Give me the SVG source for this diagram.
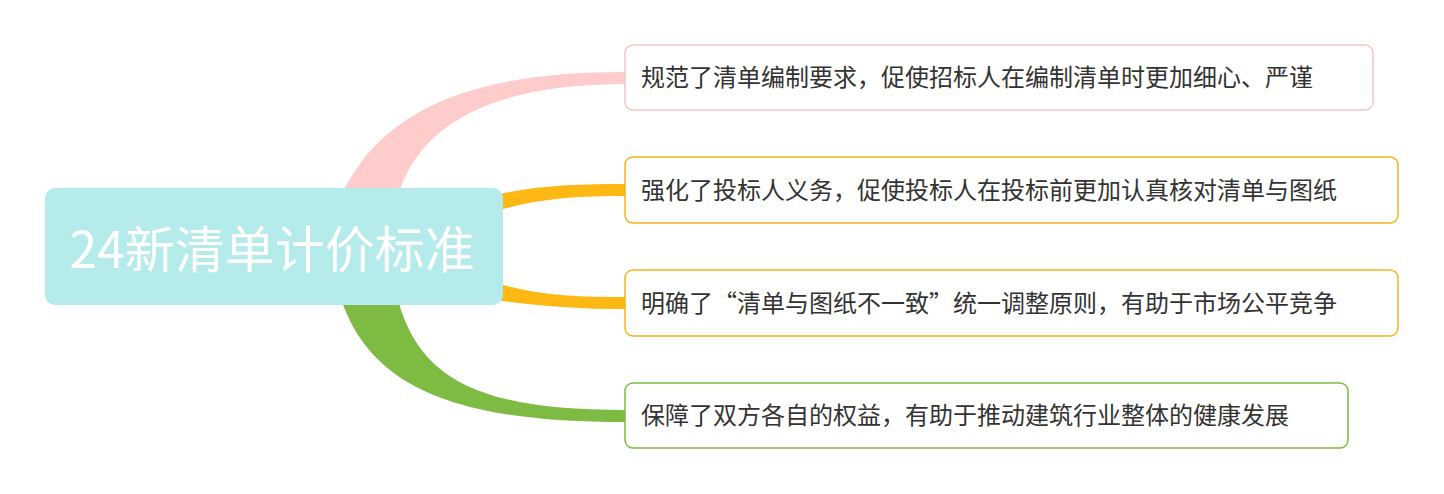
<svg xmlns="http://www.w3.org/2000/svg" width="1444" height="494" viewBox="0 0 1444 494">
<style>
.leaf{fill:#fff;stroke-width:1.5}
.lt{font-family:"Noto Sans CJK SC","Noto Sans",sans-serif;font-size:24px;fill:#333}
</style>
<rect width="1444" height="494" fill="#fff"/>
<g id="connectors">
<path d="M340,198 C380,110 470,72 625,72 L625,84 C500,84 420,120 398,196 Z" fill="#ffcccc"/>
<path d="M495,195 C540,185 580,184 625,184 L625,196 C580,196 540,198 500,210 Z" fill="#fdb813"/>
<path d="M500,284 C540,296 580,297 625,297 L625,309 C580,309 540,306 495,300 Z" fill="#fdb813"/>
<path d="M340,296 C370,390 460,422 625,422 L625,410 C480,410 420,380 398,300 Z" fill="#7dbb42"/>
</g>
<g id="center">
<rect x="45" y="188" width="458" height="117" rx="10" fill="#b5ebeb"/>
<text x="272" y="268" text-anchor="middle" font-family="Noto Sans CJK SC,sans-serif" font-size="50" fill="#fff">24新清单计价标准</text>
</g>
<g id="leaf1"><rect class="leaf" x="625" y="45" width="748" height="65" rx="8" stroke="#f5c6c6"/><text class="lt" x="641" y="86">规范了清单编制要求，促使招标人在编制清单时更加细心、严谨</text></g>
<g id="leaf2"><rect class="leaf" x="625" y="157" width="773" height="66" rx="8" stroke="#f3b51c"/><text class="lt" x="641" y="199">强化了投标人义务，促使投标人在投标前更加认真核对清单与图纸</text></g>
<g id="leaf3"><rect class="leaf" x="625" y="270" width="773" height="66" rx="8" stroke="#f3b51c"/><text class="lt" x="641" y="312">明确了“清单与图纸不一致”统一调整原则，有助于市场公平竞争</text></g>
<g id="leaf4"><rect class="leaf" x="625" y="383" width="723" height="65" rx="8" stroke="#7dbb42"/><text class="lt" x="641" y="424">保障了双方各自的权益，有助于推动建筑行业整体的健康发展</text></g>
</svg>
